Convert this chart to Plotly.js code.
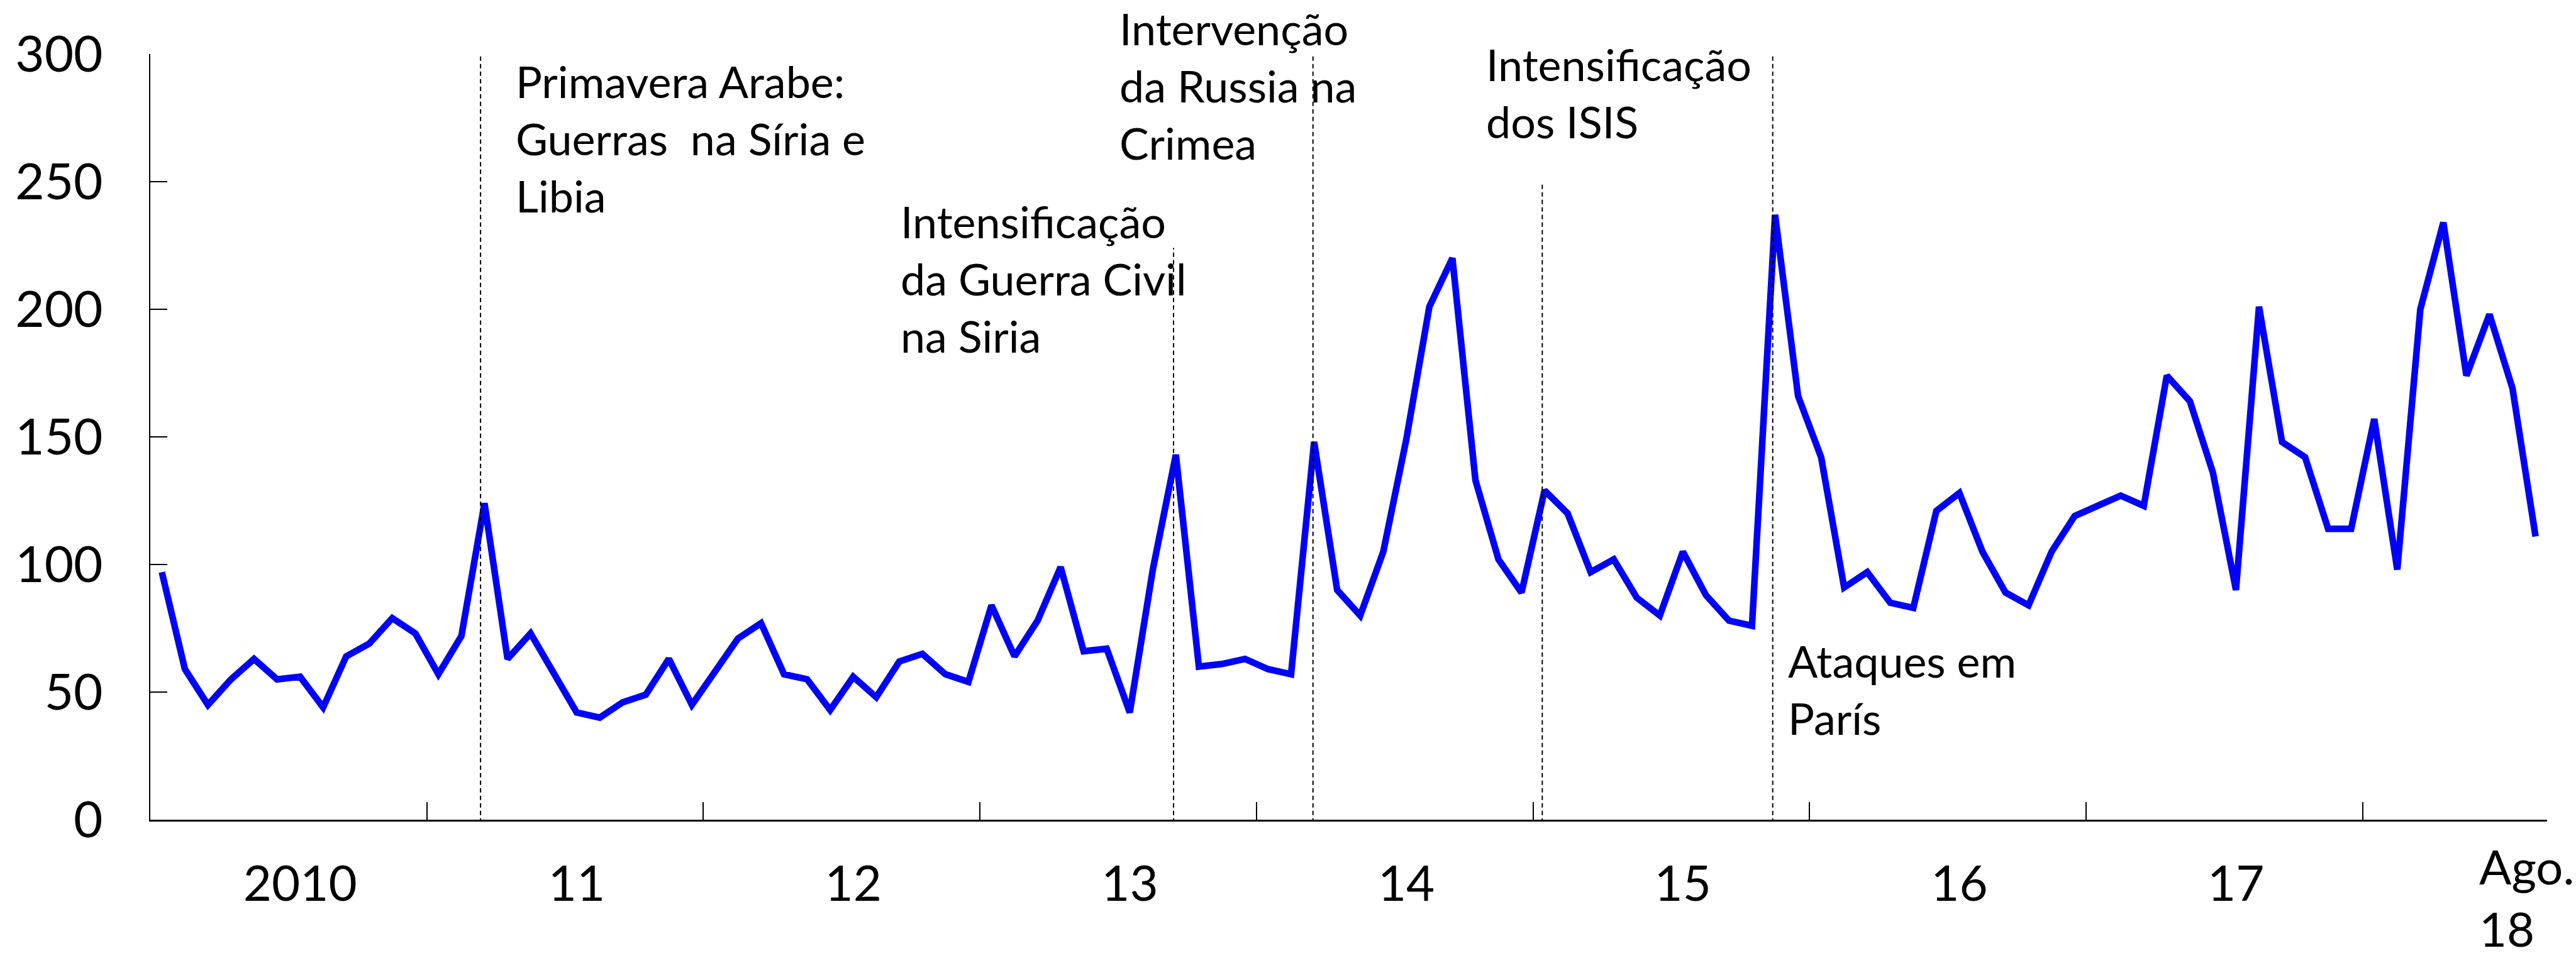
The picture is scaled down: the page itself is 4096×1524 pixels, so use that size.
<!DOCTYPE html>
<html><head><meta charset="utf-8">
<script src="https://cdn.plot.ly/plotly-3.0.1.min.js"></script>
<style>html,body{margin:0;padding:0;background:#fff;} #chart{width:4096px;height:1524px;}</style>
</head><body><div id="chart"></div>
<script>
// Monthly values, Jan 2010 - Aug 2018
const v2010 = [97, 59, 45, 55, 63, 55, 56, 44, 64, 69, 79, 73];
const v2011 = [57, 72, 124, 63, 73, 58, 42, 40, 46, 49, 63, 45];
const v2012 = [58, 71, 77, 57, 55, 43, 56, 48, 62, 65, 57, 54];
const v2013 = [84, 64, 78, 99, 66, 67, 42, 98, 143, 60, 61, 63];
const v2014 = [59, 57, 148, 90, 80, 105, 149, 201, 220, 133, 102, 89];
const v2015 = [129, 120, 97, 102, 87, 80, 105, 88, 78, 76, 237, 166];
const v2016 = [142, 91, 97, 85, 83, 121, 128, 105, 89, 84, 105, 119];
const v2017 = [123, 127, 123, 174, 164, 136, 90, 201, 148, 142, 114, 114];
const v2018 = [157, 98, 200, 234, 174, 198, 169, 111];

const yearLabels = ['2010', '11', '12', '13', '14', '15', '16', '17'];
const lastLabel = 'Ago.<br>18';
const yTicks = [0, 50, 100, 150, 200, 250, 300];

// Events: month index of the dotted line and the height it reaches
const eventMonth = [13.83, 43.9, 49.95, 59.9, 69.9];
const eventTop = [300, 224, 300, 250, 300];
const eventText = [
  'Primavera Arabe:<br>Guerras  na Síria e<br>Libia',
  'Intensificação<br>da Guerra Civil<br>na Siria',
  'Intervenção<br>da Russia na<br>Crimea',
  'Intensificação<br>dos ISIS',
  'Ataques em<br>París'
];

const values = [].concat(v2010, v2011, v2012, v2013, v2014, v2015, v2016, v2017, v2018);
const xIdx = values.map((_, i) => i);
const yearBounds = yearLabels.map((_, i) => 11.5 + 12 * i);
const yearCenters = yearLabels.map((_, i) => 6 + 12 * i);

const FONT = 'Lato, "Open Sans", sans-serif';
const XR = [-0.5, 103.5];

// text placement (layout only; y in paper units)
const notePos = [
  {x: 15.3, y: 1.0008},
  {x: 32.0, y: 0.8177},
  {x: 41.5, y: 1.0698},
  {x: 57.4, y: 1.0226},
  {x: 70.5, y: 0.2438}
];

const annotations = eventText.map((t, i) => ({
  xref: 'x', yref: 'paper', x: notePos[i].x, y: notePos[i].y,
  xanchor: 'left', yanchor: 'top', align: 'left', showarrow: false,
  text: t, font: {family: FONT, size: 70, color: '#000'}
}));
annotations.push({
  xref: 'x', yref: 'paper', x: 100.5, y: -0.021, xanchor: 'left', yanchor: 'top', align: 'left',
  showarrow: false, text: lastLabel, font: {family: FONT, size: 76, color: '#000'}
});

const shapes = eventMonth.map((m, i) => ({
  type: 'line', xref: 'x', yref: 'y', x0: m, x1: m, y0: -1.2, y1: eventTop[i],
  line: {color: '#000', width: 2, dash: '7px,5px'}, layer: 'above'
}));

const trace = {
  x: xIdx, y: values, type: 'scatter', mode: 'lines',
  line: {color: '#0000FF', width: 10.5, shape: 'linear'},
  hoverinfo: 'skip'
};

const layout = {
  width: 4096, height: 1524,
  margin: {l: 239, r: 46, t: 86, b: 220, pad: 0},
  paper_bgcolor: '#fff', plot_bgcolor: '#fff',
  showlegend: false,
  font: {family: FONT, color: '#000', size: 66},
  xaxis: {
    range: XR, tickmode: 'array', tickvals: yearBounds, ticktext: yearBounds.map(() => ''),
    ticks: 'inside', ticklen: 28, tickwidth: 2, tickcolor: '#000',
    showline: true, linecolor: '#000', linewidth: 2.5, mirror: false,
    showgrid: false, zeroline: false, showticklabels: false, fixedrange: true
  },
  xaxis2: {
    overlaying: 'x', anchor: 'y', side: 'bottom', range: XR,
    tickmode: 'array', tickvals: yearCenters, ticktext: yearLabels,
    ticks: '', showline: false, showgrid: false, zeroline: false,
    tickfont: {family: FONT, size: 78, color: '#000'}, ticklabelstandoff: 50, fixedrange: true
  },
  yaxis: {
    range: [0, 300], tickmode: 'array', tickvals: yTicks, ticktext: yTicks.map(String),
    ticks: 'inside', ticklen: 27, tickwidth: 2, tickcolor: '#000',
    showline: true, linecolor: '#000', linewidth: 2.5,
    showgrid: false, zeroline: false,
    tickfont: {family: FONT, size: 80, color: '#000'}, ticklabelstandoff: 57, fixedrange: true
  },
  shapes: shapes,
  annotations: annotations
};

Plotly.newPlot('chart', [trace, {x: [], y: [], xaxis: 'x2', yaxis: 'y', type: 'scatter', mode: 'lines', hoverinfo: 'skip'}], layout, {staticPlot: true, displayModeBar: false});
</script>
</body></html>
